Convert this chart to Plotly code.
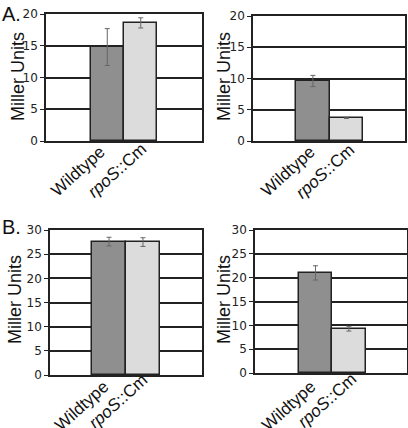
import plotly.graph_objects as go

categories = ["Wildtype", "<i>rpoS</i>::Cm"]

# Panel A left
a1_values = [14.8, 18.6]
a1_errors = [2.9, 0.8]
# Panel A right
a2_values = [9.6, 3.7]
a2_errors = [0.9, 0.1]
# Panel B left
b1_values = [27.6, 27.5]
b1_errors = [0.9, 0.9]
# Panel B right
b2_values = [21.0, 9.3]
b2_errors = [1.5, 0.5]

y_maxes = [20, 20, 30, 30]
bar_colors = ["#8f8f8f", "#dcdcdc"]

W, H = 408, 428

# panel boxes in pixels: (x0, x1, ytop, ybottom)
boxes = [(46, 202, 14, 141), (253, 405, 16, 141), (50, 202, 230, 375), (255, 407, 230, 373)]
xranges = [[-1.83, 2.83], [-1.79, 2.75], [-1.74, 2.74], [-1.81, 2.74]]
panels = [(a1_values, a1_errors), (a2_values, a2_errors), (b1_values, b1_errors), (b2_values, b2_errors)]
# category label centres (pixels) per panel
label_pos = [[(78, 172), (117, 170)], [(288, 172), (325, 171)],
             [(81, 406), (118, 401)], [(288, 406), (327, 400)]]

fig = go.Figure()
annotations = []
for i, ((vals, errs), box) in enumerate(zip(panels, boxes)):
    n = "" if i == 0 else str(i + 1)
    fig.add_trace(go.Bar(
        x=categories, y=vals,
        width=1.0,
        marker=dict(color=bar_colors, line=dict(color="#222222", width=1.5)),
        error_y=dict(type="data", array=errs, visible=True, color="#666666", thickness=1, width=2.5),
        xaxis="x" + n, yaxis="y" + n, showlegend=False,
    ))
    x0, x1, yt, yb = box
    ymax = y_maxes[i]
    fig.update_layout(**{
        "xaxis" + n: dict(
            domain=[x0 / W, x1 / W], anchor="y" + n, type="category", automargin=False,
            range=xranges[i], showline=True, linecolor="#222222", linewidth=1.5, mirror=True,
            ticks="", showticklabels=False, showgrid=False,
        ),
        "yaxis" + n: dict(
            domain=[1 - yb / H, 1 - yt / H], anchor="x" + n, automargin=False,
            range=[0, ymax], dtick=5, showline=True, linecolor="#222222", linewidth=1.5, mirror=True,
            ticks="outside", ticklen=4, tickcolor="#222222", showgrid=True, gridcolor="#222222", gridwidth=1.5,
            zeroline=False,
            tickfont=dict(family="DejaVu Sans", size=12, color="#222222"),
        ),
    })
    for cat, (lx, ly) in zip(categories, label_pos[i]):
        annotations.append(dict(text=cat, x=lx / W, y=1 - ly / H, xref="paper", yref="paper",
                                showarrow=False, textangle=-42, xanchor="center", yanchor="middle",
                                font=dict(family="Liberation Sans, Arial", size=17, color="#111111")))

title_pos = [(18, 77), (224, 77), (15, 300), (224, 300)]
for (tx, ty) in title_pos:
    annotations.append(dict(text="Miller Units", x=tx / W, y=1 - ty / H, xref="paper", yref="paper",
                            showarrow=False, textangle=-90, xanchor="center", yanchor="middle",
                            font=dict(family="Liberation Sans, Arial", size=18, color="#111111")))
annotations.append(dict(text="A.", x=0, y=1 - 1 / H, xref="paper", yref="paper", showarrow=False,
                        xanchor="left", yanchor="top", font=dict(family="Liberation Sans, Arial", size=20, color="#111111")))
annotations.append(dict(text="B.", x=0, y=1 - 214 / H, xref="paper", yref="paper", showarrow=False,
                        xanchor="left", yanchor="top", font=dict(family="Liberation Sans, Arial", size=20, color="#111111")))

fig.update_layout(
    width=W, height=H, margin=dict(l=0, r=0, t=0, b=0, autoexpand=False),
    paper_bgcolor="white", plot_bgcolor="white",
    bargap=0, annotations=annotations,
)

fig.write_html("out.html", config={"displayModeBar": False},
               post_script="document.body.style.margin='0';")
